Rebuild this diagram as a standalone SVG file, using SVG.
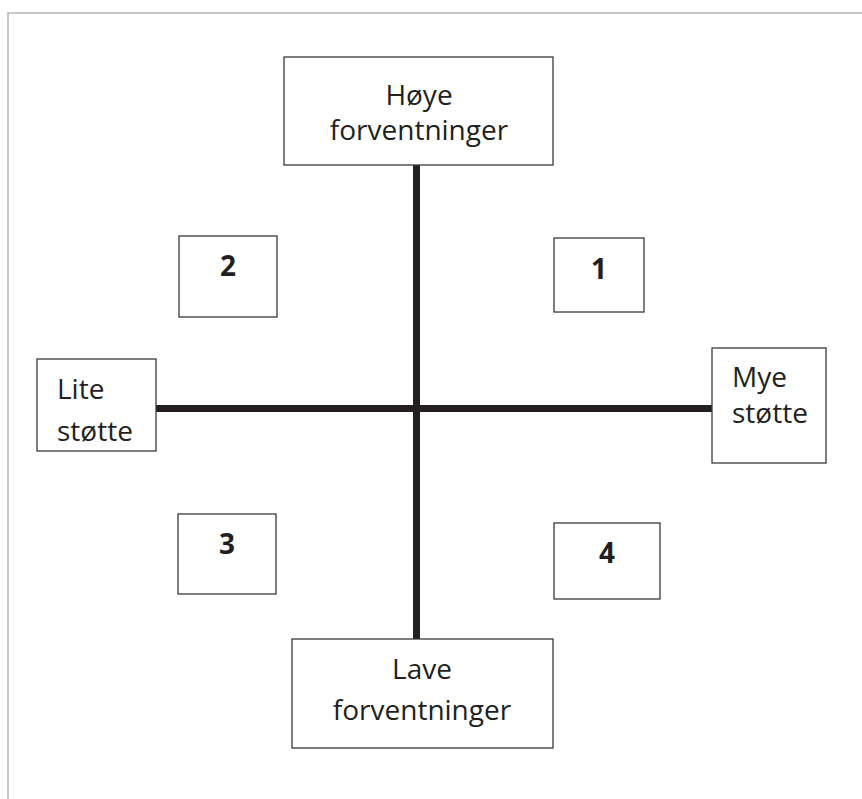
<svg xmlns="http://www.w3.org/2000/svg" width="862" height="799" viewBox="0 0 862 799">
<style>
.frame{stroke:#b4b4b4;stroke-width:1.5;fill:none}
.box{fill:#fff;stroke:#3a3a3a;stroke-width:1.3}
.axis{stroke:#231f20;stroke-width:7;fill:none}
.lbl{font-family:"Open Sans","Noto Sans",sans-serif;font-size:28px;fill:#231f20}
.num{font-family:"Open Sans","Noto Sans",sans-serif;font-size:28px;font-weight:bold;fill:#231f20;text-anchor:middle}
.mid{text-anchor:middle}
</style>
<rect width="862" height="799" fill="#fff"/>
<path class="frame" d="M8,799 V13 H862"/>
<g id="connectors">
<line class="axis" x1="416.5" y1="165" x2="416.5" y2="639"/>
<line class="axis" x1="156" y1="408.5" x2="712" y2="408.5"/>
</g>
<g id="hoye">
<rect class="box" x="284" y="57" width="269" height="108"/>
<text class="lbl mid" x="419" y="105">Høye</text>
<text class="lbl mid" x="419" y="140">forventninger</text>
</g>
<g id="lave">
<rect class="box" x="292" y="639" width="261" height="109"/>
<text class="lbl mid" x="422" y="679">Lave</text>
<text class="lbl mid" x="422" y="720">forventninger</text>
</g>
<g id="lite">
<rect class="box" x="37" y="359" width="119" height="92"/>
<text class="lbl" x="57" y="399">Lite</text>
<text class="lbl" x="57" y="441">støtte</text>
</g>
<g id="mye">
<rect class="box" x="712" y="348" width="114" height="115"/>
<text class="lbl" x="732" y="387">Mye</text>
<text class="lbl" x="732" y="423">støtte</text>
</g>
<g id="q1">
<rect class="box" x="554" y="238" width="90" height="74"/>
<text class="num" x="599" y="279">1</text>
</g>
<g id="q2">
<rect class="box" x="179" y="236" width="98" height="81"/>
<text class="num" x="228" y="276">2</text>
</g>
<g id="q3">
<rect class="box" x="178" y="514" width="98" height="80"/>
<text class="num" x="227" y="554">3</text>
</g>
<g id="q4">
<rect class="box" x="554" y="523" width="106" height="76"/>
<text class="num" x="607" y="563">4</text>
</g>
</svg>
